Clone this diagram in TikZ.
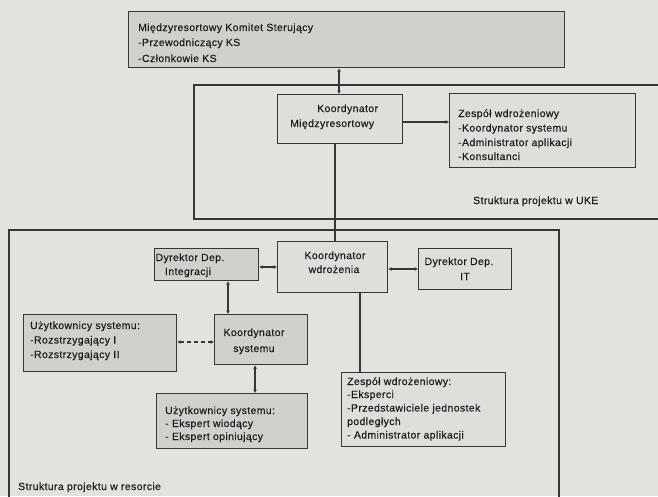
\documentclass[tikz,border=0pt]{standalone}
\usepackage{fontspec}
\setmainfont{Liberation Sans}[LetterSpace=4, FakeBold=0.6]
\usetikzlibrary{arrows.meta}
\definecolor{paper}{RGB}{226,226,223}
\definecolor{darkbox}{RGB}{208,208,205}
\definecolor{lightbox}{RGB}{222,222,219}
\definecolor{ink}{RGB}{52,56,54}
\definecolor{txt}{RGB}{30,30,30}
\tikzset{
  frame/.style={draw=ink, line width=1.3pt},
  boxd/.style={draw=ink, line width=1.2pt, fill=darkbox, inner sep=0pt, anchor=north west},
  boxl/.style={draw=ink, line width=1.2pt, fill=lightbox, inner sep=0pt, anchor=north west},
  lbl/.style={text=txt, inner sep=0pt, anchor=base west, font=\fontsize{10.4}{12}\selectfont},
  clbl/.style={lbl, anchor=base},
  tip/.style={-{Latex[length=3.5pt,width=4pt]}},
  tips/.style={{Latex[length=3.5pt,width=4pt]}-{Latex[length=3.5pt,width=4pt]}},
  link/.style={draw=ink, line width=1.2pt},
  heavy/.style={draw=ink, line width=2.4pt},
}
\begin{document}
\begin{tikzpicture}[x=1pt,y=-1pt]
\useasboundingbox (0,0) rectangle (658,496);
\fill[paper] (0,0) rectangle (658,496);
\begin{scope}
\clip (0,0) rectangle (658,496);
% outer frames of the two project structures
\draw[frame] (194,85) rectangle (680,219);
\draw[frame] (9,230) rectangle (559,520);
\end{scope}

% steering committee
\node[boxd, minimum width=436pt, minimum height=56pt] (ks) at (128,11) {};
\node[lbl] (ks1) at (138,31) {Międzyresortowy Komitet Sterujący};
\node[lbl] (ks2) at (138,46) {-Przewodniczący KS};
\node[lbl] (ks3) at (138,62) {-Członkowie KS};

% UKE level
\node[boxl, minimum width=125pt, minimum height=49pt] (kmr) at (277,94) {};
\node[lbl] (kmr1) at (317,112) {Koordynator};
\node[lbl] (kmr2) at (290,127) {Międzyresortowy};

\node[boxl, minimum width=186pt, minimum height=74pt] (zuke) at (449,93) {};
\node[lbl] (zuke1) at (458,117) {Zespół wdrożeniowy};
\node[lbl] (zuke2) at (458,131.5) {-Koordynator systemu};
\node[lbl] (zuke3) at (458,146) {-Administrator aplikacji};
\node[lbl] (zuke4) at (458,160) {-Konsultanci};

\node[lbl] (ukecap) at (473,204) {Struktura projektu w UKE};

% ministry level
\node[boxd, minimum width=104pt, minimum height=32pt] (ddi) at (154,248) {};
\node[clbl] (ddi1) at (190,261) {Dyrektor Dep.};
\node[clbl] (ddi2) at (188,275) {Integracji};

\node[boxl, minimum width=110pt, minimum height=51pt] (kw) at (277,241) {};
\node[clbl] (kw1) at (335,259) {Koordynator};
\node[clbl] (kw2) at (334,273) {wdrożenia};

\node[boxl, minimum width=93pt, minimum height=41pt] (dit) at (418,248) {};
\node[clbl] (dit1) at (459,265) {Dyrektor Dep.};
\node[clbl] (dit2) at (465,280) {IT};

\node[boxd, minimum width=153pt, minimum height=57pt] (uz1) at (23,314) {};
\node[lbl] (uz1a) at (30,329) {Użytkownicy systemu:};
\node[lbl] (uz1b) at (30,343.5) {-Rozstrzygający I};
\node[lbl] (uz1c) at (30,358) {-Rozstrzygający II};

\node[boxd, minimum width=93pt, minimum height=50pt] (ksys) at (214,314) {};
\node[clbl] (ksys1) at (254,336) {Koordynator};
\node[clbl] (ksys2) at (254,352) {systemu};

\node[boxd, minimum width=151pt, minimum height=55pt] (uz2) at (156,393) {};
\node[lbl] (uz2a) at (165,414) {Użytkownicy systemu:};
\node[lbl] (uz2b) at (165,427) {- Ekspert wiodący};
\node[lbl] (uz2c) at (165,440) {- Ekspert opiniujący};

\node[boxl, minimum width=164pt, minimum height=74pt] (zw) at (341,372) {};
\node[lbl] (zw1) at (347,385) {Zespół wdrożeniowy:};
\node[lbl] (zw2) at (347,398) {-Eksperci};
\node[lbl] (zw3) at (347,411.5) {-Przedstawiciele jednostek};
\node[lbl] (zw4) at (347,425) {podległych};
\node[lbl] (zw5) at (347,438.5) {- Administrator aplikacji};

\node[lbl] (rescap) at (18,490) {Struktura projektu w resorcie};

% connectors
\draw[link, tips] (ks.south -| 339,0) -- (kmr.north -| 339,0);
\draw[heavy, tip] (kmr.east |- 0,122) -- (zuke.west |- 0,122);
\draw[link] (kmr.south -| 335,0) -- (kw.north -| 335,0);
\draw[heavy, tips] (ddi.east |- 0,267) -- (kw.west |- 0,267);
\draw[heavy, tips] (kw.east |- 0,269) -- (dit.west |- 0,269);
\draw[heavy, tips] (ddi.south -| 228,0) -- (ksys.north -| 228,0);
\draw[heavy, tips, dash pattern=on 4pt off 3pt] (uz1.east |- 0,342) -- (ksys.west |- 0,342);
\draw[heavy, tips] (ksys.south -| 255,0) -- (uz2.north -| 255,0);
\draw[heavy] (kw.south -| 360,0) -- (zw.north -| 360,0);
\end{tikzpicture}
\end{document}
